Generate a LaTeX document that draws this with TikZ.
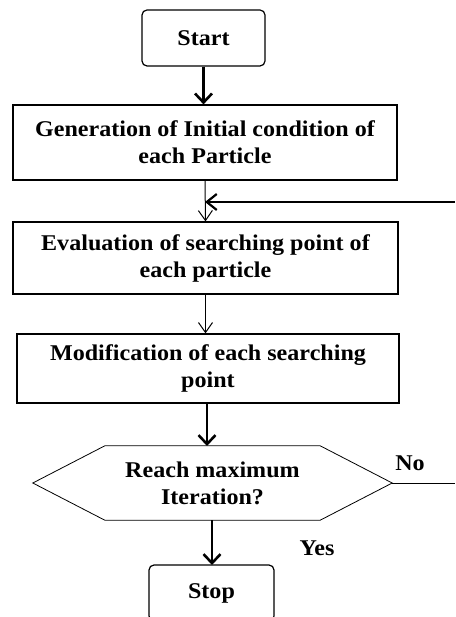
\documentclass[tikz,border=0pt]{standalone}
\usepackage{fontspec}
\setmainfont{Liberation Serif}[FakeStretch=1.07]
\usetikzlibrary{positioning,arrows.meta}
\tikzset{
  every node/.style={font=\bfseries\fontsize{22.5}{27}\selectfont},
  process/.style={draw,line width=1.2pt,minimum height=72pt,align=center,inner sep=0pt},
  terminal/.style={draw,line width=1.2pt,rounded corners=5pt,minimum width=123pt,minimum height=56pt,inner sep=0pt},
  thickarrow/.style={line width=2.6pt,-{Straight Barb[length=9pt,width=17pt]}},
  thinarrow/.style={line width=1pt,-{Straight Barb[length=10pt,width=14pt]}},
}

\begin{document}
\begin{tikzpicture}[x=1pt,y=-1pt]
                   \useasboundingbox (0,0) rectangle (455,617);
                   \node[terminal] (start) at (203.5,38) {Start};
                   \node[process,minimum width=384pt,minimum height=75pt] (gen) at (205,142.5) {Generation of Initial condition of\\each Particle};
                   \node[process,minimum width=385pt] (eval) at (205.5,258) {Evaluation of searching point of\\each particle};
                   \node[process,minimum width=382pt,minimum height=69pt] (modif) at (208,368.5) {Modification of each searching\\point};
                   \node[align=center,minimum width=359pt,minimum height=74pt,inner sep=0pt] (reach) at (212.5,483) {Reach maximum\\Iteration?};
                   \node[terminal,minimum width=125pt] (stop) at (211.5,593) {Stop};
                   \node (no) at (410,463) {No};
                   \node (yes) at (317,548) {Yes};
                   \coordinate (back) at (455,202);
                   \coordinate (join) at (205,202);
                   \coordinate (noend) at (455,483);
                   % decision box
                   \draw[line width=0.8pt] (reach.west) -- ([xshift=72pt]reach.north west) -- ([xshift=-72pt]reach.north east)
                        -- (reach.east) -- ([xshift=-72pt]reach.south east) -- ([xshift=72pt]reach.south west) -- cycle;
                    \path
                    (start.south) edge [thickarrow] (start.south |- gen.north)
                    (gen.south) edge [thinarrow] (eval.north)
                    (back) edge [line width=2.2pt,-{Straight Barb[length=10pt,width=16pt]}] (join)
                    (eval.south) edge [thinarrow] (eval.south |- modif.north)
                    (modif.south -| 207,0) edge [thickarrow] (207,446)
                    (reach.south -| 212,0) edge [thickarrow] (212,565)
                    (reach.east) edge [line width=1pt] (noend)
                    ;
                \end{tikzpicture}
\end{document}
